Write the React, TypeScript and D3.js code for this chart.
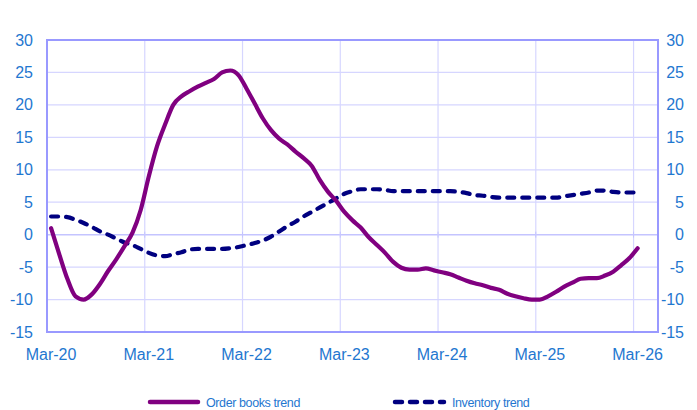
import React from 'react';
import * as d3 from 'd3';

// monthly trend values, Mar-20 .. Mar-26
const orderBooks = [
  1.0, -3.0, -6.8, -9.5, -10.0, -9.2, -7.6, -5.6, -3.8, -1.8, 0.3, 3.8,
  9.0, 13.6, 17.0, 20.0, 21.3, 22.1, 22.8, 23.4, 24.0, 25.0, 25.3, 24.6,
  22.5, 20.2, 17.9, 16.1, 14.8, 13.9, 12.8, 11.8, 10.6, 8.4, 6.6, 5.2,
  3.5, 2.2, 1.1, -0.4, -1.6, -2.8, -4.2, -5.1, -5.4, -5.4, -5.2, -5.5,
  -5.8, -6.1, -6.6, -7.1, -7.5, -7.8, -8.2, -8.5, -9.1, -9.5, -9.8, -10.0,
  -10.0, -9.5, -8.8, -8.0, -7.4, -6.8, -6.7, -6.7, -6.3, -5.7, -4.7, -3.6,
  -2.1,
];

const inventory = [
  2.8, 2.8, 2.7, 2.3, 1.8, 1.2, 0.5, 0.0, -0.6, -1.2, -1.6, -2.2,
  -2.8, -3.2, -3.3, -3.0, -2.7, -2.3, -2.2, -2.2, -2.2, -2.2, -2.1, -1.9,
  -1.6, -1.3, -0.9, -0.3, 0.5, 1.3, 2.0, 2.8, 3.5, 4.2, 4.9, 5.6,
  6.3, 6.7, 7.0, 7.0, 7.0, 6.9, 6.7, 6.7, 6.7, 6.7, 6.7, 6.7,
  6.7, 6.7, 6.6, 6.4, 6.1, 6.0, 5.8, 5.7, 5.7, 5.7, 5.7, 5.7,
  5.7, 5.7, 5.7, 5.9, 6.1, 6.3, 6.5, 6.8, 6.8, 6.6, 6.5, 6.5,
  6.5,
];

const tickLabels = ['Mar-20', 'Mar-21', 'Mar-22', 'Mar-23', 'Mar-24', 'Mar-25', 'Mar-26'];
const yTicks = [30, 25, 20, 15, 10, 5, 0, -5, -10, -15];
const legendLabels = ['Order books trend', 'Inventory trend'];

const WIDTH = 697;
const HEIGHT = 410;
const CATEGORY_COUNT = 75; // axis runs two empty months past the last point
const margin = { top: 40, right: 39, bottom: 78, left: 47 };

const blue = '#1F77D0';
const gridColor = '#D6D6FF';
const borderColor = '#9999FF';
const font = '"Liberation Sans", Arial, sans-serif';

const App: React.FC = () => {
  const x = d3.scaleLinear()
    .domain([0, CATEGORY_COUNT])
    .range([margin.left, WIDTH - margin.right]);

  const y = d3.scaleLinear()
    .domain([-15, 30])
    .range([HEIGHT - margin.bottom, margin.top]);

  // points sit in the middle of each month's band
  const line = d3.line<number>()
    .x((_, i) => x(i + 0.5))
    .y(d => y(d))
    .curve(d3.curveMonotoneX);

  const plotLeft = x(0);
  const plotRight = x(CATEGORY_COUNT);
  const plotTop = y(30);
  const plotBottom = y(-15);

  return (
    <svg width={WIDTH} height={HEIGHT} style={{ position: 'absolute', left: 0, top: 0, fontFamily: font }}>
      <rect width={WIDTH} height={HEIGHT} fill="#fff" />

      {/* horizontal grid */}
      {yTicks.map(t => (
        <line key={'h' + t} x1={plotLeft} x2={plotRight} y1={y(t)} y2={y(t)}
          stroke={t === 0 ? '#C4C4FF' : gridColor} strokeWidth={t === 0 ? 1.5 : 1.2} />
      ))}

      {/* vertical grid, one per year */}
      {tickLabels.map((_, i) => (
        <line key={'v' + i} x1={x(i * 12)} x2={x(i * 12)} y1={plotTop} y2={plotBottom}
          stroke={gridColor} strokeWidth={1.2} />
      ))}
      {tickLabels.map((_, i) => (
        <line key={'t' + i} x1={x(i * 12)} x2={x(i * 12)} y1={y(0) - 3} y2={y(0) + 3}
          stroke="#C4C4FF" strokeWidth={1} />
      ))}

      {/* frame */}
      <rect x={plotLeft} y={plotTop} width={plotRight - plotLeft} height={plotBottom - plotTop}
        fill="none" stroke={borderColor} strokeWidth={2} />

      {/* y labels, left and right */}
      {yTicks.map(t => (
        <text key={'l' + t} x={33} y={y(t)} dy="0.35em" textAnchor="end" fontSize={16} fill={blue}>{t}</text>
      ))}
      {yTicks.map(t => (
        <text key={'r' + t} x={684} y={y(t)} dy="0.35em" textAnchor="end" fontSize={16} fill={blue}>{t}</text>
      ))}

      {/* x labels */}
      {tickLabels.map((lab, i) => (
        <text key={lab} x={x(i * 12 + 0.5)} y={360} textAnchor="middle" fontSize={16} fill={blue}>{lab}</text>
      ))}

      <path d={line(inventory) || ''} fill="none" stroke="#000080" strokeWidth={4.2}
        strokeDasharray="7 8" strokeLinecap="round" />
      <path d={line(orderBooks) || ''} fill="none" stroke="#800080" strokeWidth={4.2}
        strokeLinejoin="round" strokeLinecap="round" />

      {/* legend */}
      <line x1={150} x2={198} y1={402} y2={402} stroke="#800080" strokeWidth={4.5} strokeLinecap="round" />
      <text x={206} y={406.5} fontSize={12.5} fill={blue} letterSpacing={-0.4}>{legendLabels[0]}</text>
      <line x1={395} x2={444} y1={402} y2={402} stroke="#000080" strokeWidth={4.5}
        strokeDasharray="7 8" strokeLinecap="round" />
      <text x={452} y={406.5} fontSize={12.5} fill={blue} letterSpacing={-0.4}>{legendLabels[1]}</text>
    </svg>
  );
};

export default App;
